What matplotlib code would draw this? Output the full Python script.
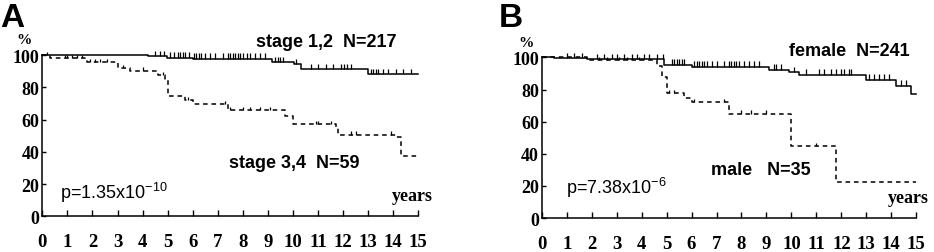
import matplotlib
matplotlib.use("Agg")
import matplotlib.pyplot as plt
import numpy as np

plt.rcParams['font.family'] = 'Liberation Sans'
plt.rcParams['mathtext.default'] = 'regular'

# panel A: stage
a_hi_t = [0, 4.23, 4.96, 6.0, 9.18, 10.05, 10.3, 13.0, 15]
a_hi_s = [100, 99.2, 98.3, 97.5, 95.4, 94.2, 91.1, 88.0, 88.0]
a_hi_cens = [4.5, 4.7, 4.85, 5.1, 5.25, 5.4, 5.5, 5.6, 5.7, 5.85, 6.05, 6.15, 6.25, 6.35,
             6.5, 6.7, 6.9, 7.2, 7.4, 7.5, 7.6, 7.7, 7.8, 7.9, 8.0, 8.15, 8.3, 8.5, 8.7,
             8.9, 9.3, 9.4, 9.5, 9.6, 10.1, 10.7, 11.0, 11.3, 11.6, 11.9, 12.05, 12.15,
             12.3, 13.1, 13.2, 13.3, 13.4, 13.6, 13.8, 14.1, 14.4, 14.7]
a_lo_t = [0, 0.3, 1.8, 3.0, 3.5, 4.6, 4.9, 5.0, 5.7, 6.0, 7.4, 9.7, 10.0, 11.7, 11.8, 14.1, 14.3, 15]
a_lo_s = [100, 98.3, 95.5, 92.0, 90.3, 87.6, 85.0, 74.8, 72.1, 69.6, 65.9, 62.4, 57.2, 55.2,
          50.6, 49.0, 37.6, 37.6]
a_lo_cens = [0.2, 0.9, 1.0, 1.2, 1.4, 1.6, 1.9, 2.1, 2.3, 2.6, 3.2, 4.0, 4.8, 5.8, 7.3, 7.5,
             8.0, 8.3, 8.7, 9.1, 10.9, 11.0, 11.5, 12.3, 12.5, 13.9]

# panel B: sex
b_f_t = [0, 0.5, 1.8, 4.9, 6.0, 9.1, 9.9, 10.3, 13.0, 14.2, 14.8, 15]
b_f_s = [100, 99.4, 98.8, 95.6, 94.2, 92.3, 90.7, 89.0, 86.1, 82.4, 77.2, 77.2]
b_f_cens = [1.0, 1.3, 1.6, 2.2, 2.5, 2.8, 3.0, 3.3, 3.6, 3.8, 4.1, 4.3, 4.6, 4.85, 5.2,
            5.3, 5.4, 5.5, 5.6, 5.7, 6.1, 6.2, 6.3, 6.4, 6.5, 6.6, 6.8, 7.0, 7.3, 7.5,
            7.6, 7.7, 7.8, 7.9, 8.1, 8.3, 8.5, 8.7, 9.3, 9.4, 9.6, 10.1, 10.6, 11.1, 11.3,
            11.6, 11.8, 12.0, 12.1, 12.3, 12.4, 13.1, 13.3, 13.5, 13.7, 13.9, 14.4, 14.6]
b_m_t = [0, 1.8, 4.6, 4.8, 5.0, 5.7, 6.0, 7.5, 10.0, 11.8, 15]
b_m_s = [100, 98.5, 94.8, 88.0, 77.8, 75.0, 72.0, 65.1, 44.6, 22.4, 22.4]
b_m_cens = [2.3, 2.6, 3.1, 3.4, 3.9, 5.1, 5.3, 6.1, 7.3, 8.0, 8.4, 9.0, 11.0]

xticks = list(range(16))
yticks = [0, 20, 40, 60, 80, 100]


def step_at(ts, ss, x):
    i = np.searchsorted(ts, x, side='right') - 1
    return np.array(ss)[i]


def km(ax, ts, ss, cens, ls, h):
    ax.step(ts, ss, where='post', color='black', lw=1.1, ls=ls, clip_on=False,
            dashes=(3, 2.5) if ls == '--' else (None, None))
    ys = step_at(ts, ss, cens)
    ax.vlines(cens, ys, ys + h, color='black', lw=0.9, clip_on=False)


def setup(ax):
    ax.set_xlim(0, 15)
    ax.set_ylim(0, 100)
    ax.spines['top'].set_visible(False)
    ax.spines['right'].set_visible(False)
    ax.spines['left'].set_linewidth(1.1)
    ax.spines['bottom'].set_linewidth(1.1)
    ax.set_xticks(xticks)
    ax.set_yticks(yticks)
    ax.tick_params(axis='x', direction='in', length=4, width=1, pad=12)
    ax.tick_params(axis='y', direction='in', length=3, width=1, pad=2)
    for lab in ax.get_xticklabels():
        lab.set_fontfamily('Liberation Serif')
        lab.set_fontweight('bold')
        lab.set_fontsize(13.5)
    for lab in ax.get_yticklabels():
        lab.set_fontfamily('Liberation Serif')
        lab.set_fontweight('bold')
        lab.set_fontsize(13)


fig = plt.figure(figsize=(9.34, 2.53), dpi=100)
axA = fig.add_axes([0.0453, 0.1411, 0.4026, 0.6375])
axB = fig.add_axes([0.580, 0.134, 0.401, 0.635])

setup(axA)
km(axA, a_hi_t, a_hi_s, a_hi_cens, '-', 3.5)
km(axA, a_lo_t, a_lo_s, a_lo_cens, '--', 2.0)
axA.text(8.52, 105.8, 'stage 1,2  N=217', fontsize=13, fontweight='bold', va='baseline')
axA.text(7.46, 30.8, 'stage 3,4  N=59', fontsize=13, fontweight='bold', va='baseline')
axA.text(0.70, 11.2, 'p=1.35x10$^{-10}$', fontsize=13, va='baseline')
axA.text(13.94, 10.0, 'years', fontsize=13, fontweight='bold', family='Liberation Serif', va='baseline')
axA.text(-0.73, 109.5, '%', fontsize=11, fontweight='bold', family='Liberation Serif',
         ha='center', va='center')

setup(axB)
km(axB, b_f_t, b_f_s, b_f_cens, '-', 3.5)
km(axB, b_m_t, b_m_s, b_m_cens, '--', 2.0)
axB.text(9.9, 101.5, 'female  N=241', fontsize=13, fontweight='bold', va='baseline')
axB.text(6.76, 27.4, 'male   N=35', fontsize=13, fontweight='bold', va='baseline')
axB.text(0.96, 15.6, 'p=7.38x10$^{-6}$', fontsize=13, va='baseline')
axB.text(13.88, 9.75, 'years', fontsize=13, fontweight='bold', family='Liberation Serif', va='baseline')
axB.text(-0.64, 109.0, '%', fontsize=11, fontweight='bold', family='Liberation Serif',
         ha='center', va='center')

fig.text(0.0, 1 - 3 / 253, 'A', fontsize=24, fontweight='bold', va='top', ha='left')
fig.text(499 / 934, 1 - 3 / 253, 'B', fontsize=24, fontweight='bold', va='top', ha='left')

fig.savefig('out.png', dpi=100)
